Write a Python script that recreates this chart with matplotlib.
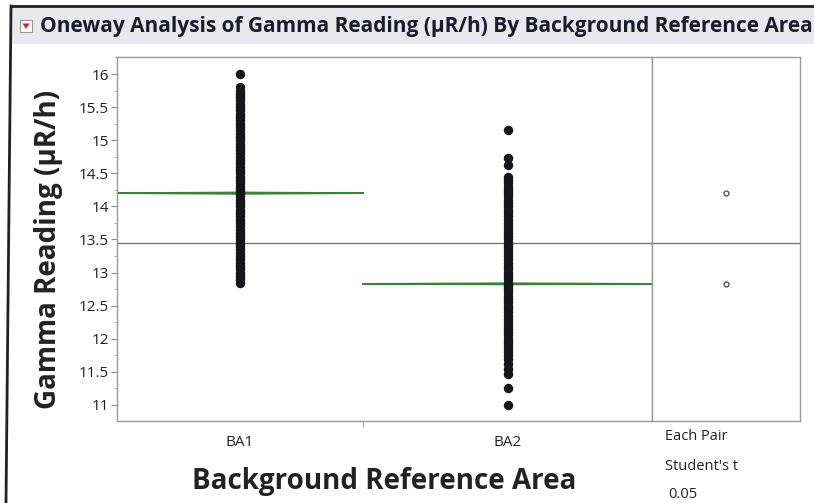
import matplotlib
matplotlib.use("Agg")
import matplotlib.pyplot as plt
from matplotlib.patches import Rectangle, Polygon
from matplotlib.ticker import MultipleLocator

plt.rcParams['font.family'] = ['Open Sans', 'DejaVu Sans']

# --- data ---
groups = ["BA1", "BA2"]
group_share = [0.46, 0.54]          # JMP draws x widths proportional to group size
grand_mean = 13.45
group_means = [14.2, 12.83]
group_ci = [0.012, 0.010]           # half-height of the (very thin) means diamonds

ba1_readings = [16.0, 15.8, 15.75, 15.7, 15.65, 15.6, 15.55, 15.5, 15.45, 15.4,
                15.35, 15.3, 15.25, 15.2, 15.15, 15.1, 15.05, 15.0, 14.95, 14.9,
                14.85, 14.8, 14.75, 14.7, 14.65, 14.6, 14.55, 14.5, 14.45, 14.4,
                14.35, 14.3, 14.25, 14.2, 14.15, 14.1, 14.05, 14.0, 13.95, 13.9,
                13.85, 13.8, 13.75, 13.7, 13.65, 13.6, 13.55, 13.5, 13.45, 13.4,
                13.35, 13.3, 13.25, 13.2, 13.15, 13.1, 13.05, 13.0, 12.95, 12.9,
                12.85]
ba2_readings = [15.15, 14.73, 14.63, 14.45, 14.4, 14.35, 14.3, 14.25, 14.2, 14.15,
                14.1, 14.05, 14.0, 13.95, 13.9, 13.85, 13.8, 13.75, 13.7, 13.65,
                13.6, 13.55, 13.5, 13.45, 13.4, 13.35, 13.3, 13.25, 13.2, 13.15,
                13.1, 13.05, 13.0, 12.95, 12.9, 12.85, 12.8, 12.75, 12.7, 12.65,
                12.6, 12.55, 12.5, 12.45, 12.4, 12.35, 12.3, 12.25, 12.2, 12.15,
                12.1, 12.05, 12.0, 11.95, 11.9, 11.85, 11.8, 11.75, 11.7, 11.62,
                11.55, 11.47, 11.26, 11.0]
readings = [ba1_readings, ba2_readings]

y_ticks = [11, 11.5, 12, 12.5, 13, 13.5, 14, 14.5, 15, 15.5, 16]
compare_labels = ["Each Pair", "Student's t", "0.05"]

W, H = 814, 503
fig = plt.figure(figsize=(W / 100, H / 100), dpi=100)


def px_axes(left, top, right, bottom, **kw):
    return fig.add_axes([left / W, 1 - bottom / H, (right - left) / W, (bottom - top) / H], **kw)


# outer frame + title bar
bg = fig.add_axes([0, 0, 1, 1])
bg.set_xlim(0, W)
bg.set_ylim(H, 0)
bg.axis("off")
bg.add_patch(Rectangle((11, 7), W, 37, facecolor="#e9e8ee", edgecolor="none"))
bg.plot([11, 6], [6, H], color="#222222", lw=2)
bg.plot([11, W], [6, 6], color="#222222", lw=2)
bg.add_patch(Rectangle((20, 20), 12, 12, facecolor="white", edgecolor="#999999", lw=0.8))
bg.add_patch(Polygon([[22.5, 23.5], [29.5, 23.5], [26, 29]], facecolor="#d8202a", edgecolor="none"))
bg.text(40, 26.5, "Oneway Analysis of Gamma Reading (\u00b5R/h) By Background Reference Area",
        fontsize=15, fontweight="bold", color="#1a1a2a", va="center", ha="left")

ylim = (10.758, 16.257)

# main oneway panel
ax = px_axes(117, 57, 652, 421)
ax.set_xlim(0, 1)
ax.set_ylim(*ylim)
edges = [0, group_share[0], 1]
centers = [(edges[i] + edges[i + 1]) / 2 for i in range(2)]

ax.axhline(grand_mean, color="#777777", lw=1.0, zorder=1)
for i, vals in enumerate(readings):
    x0, x1 = edges[i], edges[i + 1]
    m, ci = group_means[i], group_ci[i]
    ax.add_patch(Polygon([[x0, m], [centers[i], m + ci], [x1, m], [centers[i], m - ci]],
                         closed=True, facecolor="#3f8f3f", edgecolor="#3f8f3f", lw=1.2, zorder=2))
    ax.plot([x0, x1], [m, m], color="#3a7f3a", lw=1.4, zorder=2)
    ax.plot([centers[i]] * len(vals), vals, "o", color="#15151a", ms=5.8, zorder=3)

ax.set_yticks(y_ticks)
ax.set_yticklabels([f"{t:g}" for t in y_ticks])
ax.yaxis.set_minor_locator(MultipleLocator(0.25))
ax.set_xticks(centers)
ax.set_xticklabels(groups)
ax.set_xticks([edges[1]], minor=True)
ax.tick_params(axis="x", which="major", length=0, pad=10, labelsize=11, labelcolor="#222222")
ax.tick_params(axis="x", which="minor", length=4, color="#999999")
ax.tick_params(axis="y", which="major", length=4, pad=2, labelsize=11, labelcolor="#222222", color="#888888")
ax.tick_params(axis="y", which="minor", length=2, color="#aaaaaa")
for s in ax.spines.values():
    s.set_color("#999999")
    s.set_linewidth(1.0)

ax.set_ylabel("Gamma Reading (\u00b5R/h)", fontsize=20, fontweight="bold", color="#222222")
ax.yaxis.set_label_coords(-0.10, 0.47)
ax.set_xlabel("Background Reference Area", fontsize=20, fontweight="bold", color="#222222", labelpad=12)

# comparison circles panel
cx = px_axes(652, 57, 800, 421)
cx.set_xlim(0, 1)
cx.set_ylim(*ylim)
cx.set_xticks([])
cx.set_yticks([])
for s in cx.spines.values():
    s.set_color("#999999")
    s.set_linewidth(1.0)
cx.axhline(grand_mean, color="#777777", lw=1.0)
cx.plot([0.5, 0.5], group_means, "o", ms=3.5, mfc="white", mec="#555555", mew=1.0, ls="none")

for k, lab in enumerate(compare_labels):
    bg.text(665 + (3 if k == 2 else 0), 437 + 29 * k, lab, fontsize=10.5, color="#222222",
            va="center", ha="left")

fig.savefig("out.png", dpi=100)
